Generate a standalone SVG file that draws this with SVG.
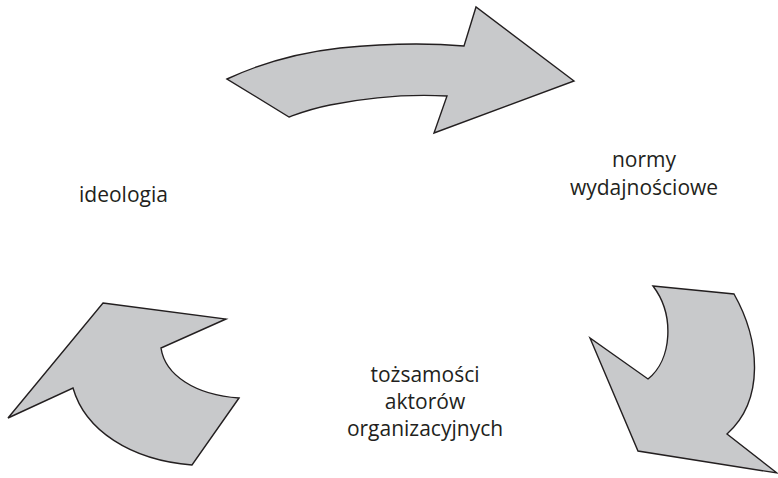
<svg xmlns="http://www.w3.org/2000/svg" width="778" height="478" viewBox="0 0 778 478">
<style>
.arrow{fill:#c8c9cb;stroke:#231f20;stroke-width:1.4;stroke-linejoin:miter}
.lbl{font-family:"Open Sans","Noto Sans","Liberation Sans",sans-serif;font-size:21px;fill:#231f20;text-anchor:middle}
</style>
<rect width="778" height="478" fill="#ffffff"/>
<g id="connectors">
<path id="arrow-top" class="arrow" d="M227,79 C255,66 295,53 340,48 C380,44 420,42 464,46 L476,7 L574,81 L434,133 L447,96 C410,94 370,97 330,105 C310,109 300,113 289,117 Z"/>
<path id="arrow-right" class="arrow" d="M653,286 L734,294 C760,340 765,400 727,434 L777,473 L638,451 L590,338 L648,379 C672,360 675,315 653,286 Z"/>
<path id="arrow-left" class="arrow" d="M103,303 L226,319 L161,348 C165,375 195,395 239,398 L192,465 C130,460 85,430 73,388 L8,418 Z"/>
</g>
<g id="node-ideologia">
<text class="lbl" x="123.5" y="202">ideologia</text>
</g>
<g id="node-normy">
<text class="lbl" x="644" y="167">normy</text>
<text class="lbl" x="644" y="195">wydajnościowe</text>
</g>
<g id="node-tozsamosci">
<text class="lbl" x="425" y="382">tożsamości</text>
<text class="lbl" x="425" y="409">aktorów</text>
<text class="lbl" x="425" y="436">organizacyjnych</text>
</g>
</svg>
